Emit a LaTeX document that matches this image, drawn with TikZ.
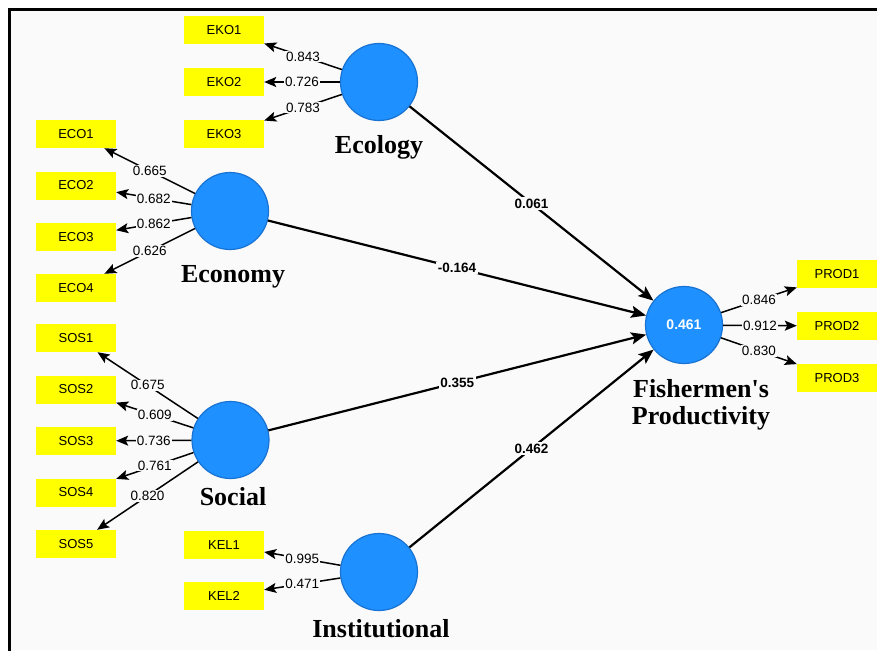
\documentclass[tikz,border=0pt]{standalone}
\usepackage{fontspec}
\setmainfont{Liberation Sans}
\newfontfamily\serifb{Liberation Serif}
\usetikzlibrary{arrows.meta}
\definecolor{bgc}{HTML}{FAFAFA}
\definecolor{lvfill}{RGB}{30,144,255}
\definecolor{lvdraw}{RGB}{25,115,210}
\definecolor{ind}{RGB}{255,255,0}
\begin{document}
\begin{tikzpicture}[x=1pt,y=-1pt,
  indbox/.style={rectangle, fill=ind, minimum width=80pt, minimum height=28pt, inner sep=0pt, font=\fontsize{13}{13}\selectfont},
  lv/.style={circle, fill=lvfill, draw=lvdraw, line width=1.2pt, minimum size=77pt, inner sep=0pt},
  lvname/.style={font=\serifb\bfseries\fontsize{26}{27}\selectfont, anchor=base},
  load/.style={line width=1.5pt, -{Stealth[length=12pt,width=10pt,inset=2.5pt]}},
  structarrow/.style={line width=2.2pt, -{Stealth[length=15pt,width=12pt,inset=3pt]}},
  loadlbl/.style={fill=bgc, inner sep=1pt, font=\fontsize{13.5}{14}\selectfont},
  coeflbl/.style={fill=bgc, inner sep=1.5pt, font=\bfseries\fontsize{13.5}{14}\selectfont},
]
\useasboundingbox (0,0) rectangle (877,650);
\fill[white] (0,0) rectangle (877,650);
\fill[bgc] (9.5,9.5) rectangle (877,650);
\draw[line width=3pt] (9.5,651) -- (9.5,9.5) -- (877,9.5);

% latent variables
\node[lv] (ecol) at (379,82) {};
\node[lv] (econ) at (230,211) {};
\node[lv] (soc) at (230.5,440) {};
\node[lv] (inst) at (379,572) {};
\node[lv, text=white, font=\bfseries\fontsize{14}{14}\selectfont] (fp) at (684,325) {0.461};

% latent names
\node[lvname] (ecolname) at (379,153) {Ecology};
\node[lvname] (econname) at (233,282) {Economy};
\node[lvname] (socname) at (233,505) {Social};
\node[lvname] (instname) at (381,637) {Institutional};
\node[font=\serifb\bfseries\fontsize{26}{27}\selectfont, align=center, inner sep=0pt] (fpname) at (701,405) {Fishermen's\\Productivity};

% indicators
\node[indbox] (eko1) at (224,30) {EKO1};
\node[indbox] (eko2) at (224,82) {EKO2};
\node[indbox] (eko3) at (224,134) {EKO3};
\node[indbox] (eco1) at (76,134) {ECO1};
\node[indbox] (eco2) at (76,185.5) {ECO2};
\node[indbox] (eco3) at (76,237) {ECO3};
\node[indbox] (eco4) at (76,288) {ECO4};
\node[indbox] (sos1) at (76,338) {SOS1};
\node[indbox] (sos2) at (76,389.5) {SOS2};
\node[indbox] (sos3) at (76,441) {SOS3};
\node[indbox] (sos4) at (76,492.5) {SOS4};
\node[indbox] (sos5) at (76,544) {SOS5};
\node[indbox] (kel1) at (224,545) {KEL1};
\node[indbox] (kel2) at (224,596) {KEL2};
\node[indbox] (prod1) at (837,274) {PROD1};
\node[indbox] (prod2) at (837,326) {PROD2};
\node[indbox] (prod3) at (837,378) {PROD3};

% loadings
\draw[load] (ecol) -- node[loadlbl, midway] {0.843} (eko1);
\draw[load] (ecol) -- node[loadlbl, midway] {0.726} (eko2);
\draw[load] (ecol) -- node[loadlbl, midway] {0.783} (eko3);
\draw[load] (econ) -- node[loadlbl, midway] {0.665} (eco1);
\draw[load] (econ) -- node[loadlbl, midway] {0.682} (eco2);
\draw[load] (econ) -- node[loadlbl, midway] {0.862} (eco3);
\draw[load] (econ) -- node[loadlbl, midway] {0.626} (eco4);
\draw[load] (soc) -- node[loadlbl, midway] {0.675} (sos1);
\draw[load] (soc) -- node[loadlbl, midway] {0.609} (sos2);
\draw[load] (soc) -- node[loadlbl, midway] {0.736} (sos3);
\draw[load] (soc) -- node[loadlbl, midway] {0.761} (sos4);
\draw[load] (soc) -- node[loadlbl, midway] {0.820} (sos5);
\draw[load] (inst) -- node[loadlbl, midway] {0.995} (kel1);
\draw[load] (inst) -- node[loadlbl, midway] {0.471} (kel2);
\draw[load] (fp) -- node[loadlbl, midway] {0.846} (prod1);
\draw[load] (fp) -- node[loadlbl, midway] {0.912} (prod2);
\draw[load] (fp) -- node[loadlbl, midway] {0.830} (prod3);

% structural paths
\draw[structarrow] (ecol) -- node[coeflbl, midway] {0.061} (fp);
\draw[structarrow] (econ) -- node[coeflbl, midway] {-0.164} (fp);
\draw[structarrow] (soc) -- node[coeflbl, midway] {0.355} (fp);
\draw[structarrow] (inst) -- node[coeflbl, midway] {0.462} (fp);
\end{tikzpicture}
\end{document}
